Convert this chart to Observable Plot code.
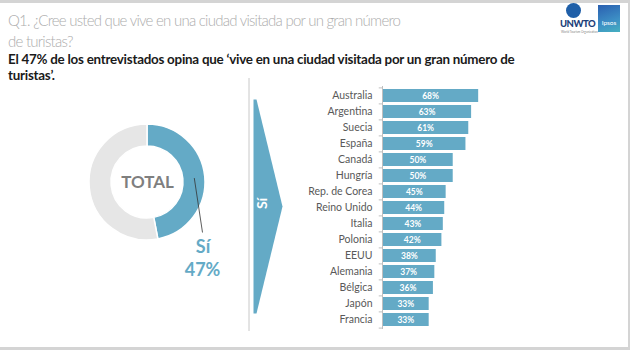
<!DOCTYPE html>
<html><head><meta charset="utf-8">
<script src="https://cdn.jsdelivr.net/npm/d3@7"></script>
<script src="https://cdn.jsdelivr.net/npm/@observablehq/plot@0.6"></script>
<style>
body{margin:0;background:#fff;font-family:Lato,"Open Sans",sans-serif;}
#slide{position:relative;width:630px;height:350px;overflow:hidden;background:#fff;}
.abs{position:absolute;}
#frame{left:0;top:0;width:630px;height:350px;box-sizing:border-box;border-top:3px solid #d4d4d4;border-right:2px solid #d4d4d4;border-bottom:3px solid #d4d4d4;pointer-events:none;}
#q{left:8px;top:10px;font-size:15px;letter-spacing:-0.75px;color:#adadad;font-weight:300;line-height:21px;white-space:nowrap;}
#sub{left:8px;top:52px;font-size:13.4px;letter-spacing:-0.25px;color:#1a1a1a;font-weight:700;line-height:15.5px;white-space:nowrap;}
#globe{left:566px;top:3px;width:15px;height:15px;border-radius:50%;background:#1f5fa8;}
#unwto{left:560px;top:18px;font-size:9.5px;font-weight:900;color:#1c3f7a;letter-spacing:-0.5px;}
#unwto2{left:561px;top:30px;font-size:3px;color:#888;}
#ipsos{left:598px;top:5px;width:22px;height:27px;background:linear-gradient(160deg,#2a5fb0,#3d8fc5 60%,#46b0c0);color:#fff;font-size:6.5px;text-align:center;line-height:36px;}
</style></head>
<body>
<div id="slide">
  <div id="q" class="abs">Q1. ¿Cree usted que vive en una ciudad visitada por un gran número<br>de turistas?</div>
  <div id="sub" class="abs">El 47% de los entrevistados opina que ‘vive en una ciudad visitada por un gran número de<br>turistas’.</div>
  <div id="globe" class="abs"></div>
  <div id="unwto" class="abs">UNWTO</div>
  <div id="unwto2" class="abs">World Tourism Organization</div>
  <div id="ipsos" class="abs">Ipsos</div>
  <div id="left" class="abs" style="left:0;top:80px"></div>
  <div id="bars" class="abs" style="left:300px;top:80px"></div>
  <div id="frame" class="abs"></div>
</div>
<script>
const countries = ["Australia","Argentina","Suecia","España","Canadá","Hungría","Rep. de Corea","Reino Unido","Italia","Polonia","EEUU","Alemania","Bélgica","Japón","Francia"];
const values = [68,63,61,59,50,50,45,44,43,42,38,37,36,33,33];
const totalLabel = "TOTAL";
const yesLabel = "Sí";
const totalYes = 47;

const blue = "#64aac6";
const rows = countries.map((c,i)=>({country:c, value:values[i]}));

// ---- bar chart ----
const bandRange = 243, nBands = countries.length, step = bandRange / nBands;
const barPlot = Plot.plot({
  width: 200, height: 253,
  marginLeft: 82, marginRight: 19, marginTop: 6, marginBottom: 4,
  style: {fontFamily: "Lato, 'Open Sans', sans-serif", color: "#595959", background: "transparent"},
  x: {domain: [0, 70], axis: null},
  y: {domain: countries, paddingInner: 0.2, paddingOuter: 0.1, label: null},
  marks: [
    Plot.barX(rows, {y: "country", x: "value", fill: blue}),
    Plot.text(rows, {y: "country", x: d => d.value / 2, text: d => d.value + "%", fill: "white", fontWeight: "bold", fontSize: 8.5}),
    Plot.ruleX([0], {stroke: "#bfbfbf"}),
    Plot.ruleY(countries, {y: d => d, x1: -2.3, x2: 0, dy: -step / 2, stroke: "#bfbfbf"}),
    Plot.ruleY(countries.slice(-1), {y: d => d, x1: -2.3, x2: 0, dy: step / 2, stroke: "#bfbfbf"}),
    Plot.axisY({tickSize: 0, tickPadding: 10, fontSize: 10.5, label: null})
  ]
});
document.getElementById("bars").appendChild(barPlot);

// ---- donut + arrow ----
const pieData = [{name: yesLabel, value: totalYes}, {name: "No", value: 100 - totalYes}];
const arcs = d3.pie().sort(null).value(d => d.value)(pieData);
const cx = 147, cy = 182, rOut = 58, rIn = 36;
const arcGen = d3.arc().innerRadius(rIn).outerRadius(rOut);
const mid = d3.arc().innerRadius(47).outerRadius(47).centroid(arcs[0]);
const arrowPts = [[253,99],[256,99],[282,206],[256,313],[253,313],[253,99]];

const leftPlot = Plot.plot({
  width: 300, height: 270,
  margin: 0,
  style: {fontFamily: "Lato, 'Open Sans', sans-serif", background: "transparent", overflow: "visible"},
  x: {domain: [0, 300], range: [0, 300], axis: null},
  y: {domain: [80, 350], range: [0, 270], axis: null},
  marks: [
    (index, scales) => {
      const g = d3.create("svg:g").attr("transform", `translate(${scales.x(cx)},${scales.y(cy)})`);
      g.selectAll("path").data(arcs).join("path")
        .attr("d", arcGen)
        .attr("fill", (d, i) => i === 0 ? blue : "#e6e6e6")
        .attr("stroke", "white").attr("stroke-width", 1.5);
      return g.node();
    },
    Plot.ruleX([248.5], {y1: 78, y2: 331, stroke: "#c8c8c8"}),
    Plot.line(arrowPts, {x: d => d[0], y: d => d[1], fill: blue, stroke: "none"}),
    Plot.text([yesLabel], {x: 262, y: 203, rotate: -90, fill: "white", fontWeight: "bold", fontSize: 14}),
    Plot.text([totalLabel], {x: cx, y: cy, fill: "#7f7f7f", fontWeight: "bold", fontSize: 17}),
    Plot.link([mid], {x1: d => cx + d[0], y1: d => cy + d[1], x2: 202, y2: 232, stroke: "#333", strokeWidth: 0.8}),
    Plot.text([yesLabel], {x: 202.5, y: 246.5, fill: blue, fontWeight: "bold", fontSize: 18}),
    Plot.text([totalYes + "%"], {x: 202, y: 270, fill: blue, fontWeight: "bold", fontSize: 18})
  ]
});
document.getElementById("left").appendChild(leftPlot);
</script>
</body></html>
